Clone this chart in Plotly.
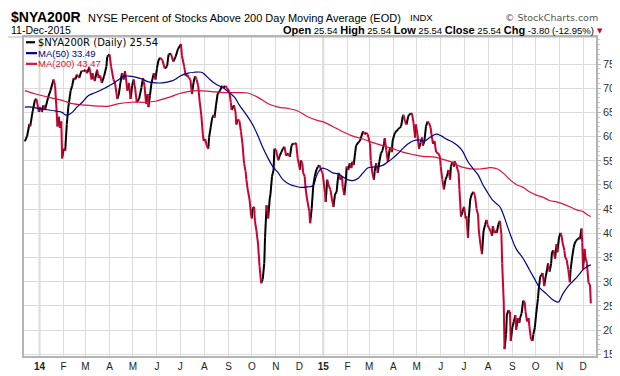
import plotly.graph_objects as go

# ---------------- data ----------------
main_dates = [
    "2013-12-13", "2013-12-16", "2013-12-19", "2013-12-20", "2013-12-23", "2013-12-26", "2013-12-28", "2013-12-31",
    "2014-01-02", "2014-01-04", "2014-01-06", "2014-01-08", "2014-01-12", "2014-01-15", "2014-01-19", "2014-01-21",
    "2014-01-23", "2014-01-24", "2014-01-26", "2014-01-27", "2014-01-29", "2014-01-30", "2014-02-01", "2014-02-03",
    "2014-02-05", "2014-02-07", "2014-02-10", "2014-02-12", "2014-02-14", "2014-02-16", "2014-02-18", "2014-02-21",
    "2014-02-24", "2014-02-27", "2014-03-01", "2014-03-03", "2014-03-06", "2014-03-09", "2014-03-10", "2014-03-13",
    "2014-03-16", "2014-03-18", "2014-03-20", "2014-03-22", "2014-03-25", "2014-03-28", "2014-03-29", "2014-04-01",
    "2014-04-03", "2014-04-06", "2014-04-08", "2014-04-11", "2014-04-13", "2014-04-15", "2014-04-17", "2014-04-19",
    "2014-04-21", "2014-04-24", "2014-04-26", "2014-04-28", "2014-04-30", "2014-05-02", "2014-05-04", "2014-05-06",
    "2014-05-09", "2014-05-12", "2014-05-14", "2014-05-16", "2014-05-18", "2014-05-20", "2014-05-21", "2014-05-23",
    "2014-05-25", "2014-05-28", "2014-05-30", "2014-06-01", "2014-06-03", "2014-06-05", "2014-06-08", "2014-06-11",
    "2014-06-14", "2014-06-16", "2014-06-19", "2014-06-22", "2014-06-25", "2014-06-28", "2014-07-02", "2014-07-03",
    "2014-07-06", "2014-07-08", "2014-07-10", "2014-07-12", "2014-07-14", "2014-07-16", "2014-07-18", "2014-07-20",
    "2014-07-22", "2014-07-24", "2014-07-26", "2014-07-28", "2014-07-30", "2014-07-31", "2014-08-02", "2014-08-04",
    "2014-08-06", "2014-08-07", "2014-08-09", "2014-08-11", "2014-08-13", "2014-08-14", "2014-08-16", "2014-08-18",
    "2014-08-19", "2014-08-21", "2014-08-24", "2014-08-26", "2014-08-28", "2014-08-30", "2014-09-02", "2014-09-04",
    "2014-09-05", "2014-09-08", "2014-09-10", "2014-09-11", "2014-09-13", "2014-09-15", "2014-09-17", "2014-09-19",
    "2014-09-21", "2014-09-23", "2014-09-24", "2014-09-26", "2014-09-28", "2014-09-30", "2014-10-01", "2014-10-02",
    "2014-10-04", "2014-10-05", "2014-10-07", "2014-10-09", "2014-10-11", "2014-10-13", "2014-10-15", "2014-10-17",
    "2014-10-18", "2014-10-20", "2014-10-22", "2014-10-24", "2014-10-25", "2014-10-27", "2014-10-29", "2014-10-30",
    "2014-11-01", "2014-11-04", "2014-11-06", "2014-11-08", "2014-11-10", "2014-11-12", "2014-11-14", "2014-11-17",
    "2014-11-19", "2014-11-21", "2014-11-23", "2014-11-25", "2014-11-27", "2014-11-29", "2014-12-02", "2014-12-03",
    "2014-12-05", "2014-12-06", "2014-12-08", "2014-12-09", "2014-12-11", "2014-12-14", "2014-12-15", "2014-12-17",
    "2014-12-19", "2014-12-21", "2014-12-23", "2014-12-25", "2014-12-27", "2014-12-29", "2014-12-31",
    "2015-01-03", "2015-01-04", "2015-01-06", "2015-01-08", "2015-01-10", "2015-01-12", "2015-01-14", "2015-01-16",
    "2015-01-18", "2015-01-20", "2015-01-21", "2015-01-23", "2015-01-25", "2015-01-26", "2015-01-28", "2015-01-30",
    "2015-01-31", "2015-02-02", "2015-02-04", "2015-02-06", "2015-02-07", "2015-02-09", "2015-02-11", "2015-02-12",
    "2015-02-15", "2015-02-17", "2015-02-19", "2015-02-21", "2015-02-23", "2015-02-25", "2015-02-27", "2015-03-02",
    "2015-03-03", "2015-03-05", "2015-03-07", "2015-03-08", "2015-03-10", "2015-03-12", "2015-03-14", "2015-03-16",
    "2015-03-18", "2015-03-20", "2015-03-21", "2015-03-23", "2015-03-25", "2015-03-27", "2015-03-28", "2015-03-30",
    "2015-03-31", "2015-04-03", "2015-04-05", "2015-04-07", "2015-04-09", "2015-04-11", "2015-04-13", "2015-04-14",
    "2015-04-16", "2015-04-18", "2015-04-20", "2015-04-21", "2015-04-23", "2015-04-25", "2015-04-27", "2015-04-29",
    "2015-04-30", "2015-05-02", "2015-05-04", "2015-05-06", "2015-05-08", "2015-05-09", "2015-05-11", "2015-05-13",
    "2015-05-15", "2015-05-17", "2015-05-19", "2015-05-20", "2015-05-22", "2015-05-24", "2015-05-26", "2015-05-29",
    "2015-05-31", "2015-06-01", "2015-06-03", "2015-06-05", "2015-06-07", "2015-06-09", "2015-06-11", "2015-06-13",
    "2015-06-14", "2015-06-16", "2015-06-18", "2015-06-19", "2015-06-21", "2015-06-24", "2015-06-25", "2015-06-27",
    "2015-06-29", "2015-07-01", "2015-07-03", "2015-07-04", "2015-07-06", "2015-07-07", "2015-07-09", "2015-07-11",
    "2015-07-13", "2015-07-15", "2015-07-17", "2015-07-19", "2015-07-20", "2015-07-22", "2015-07-24", "2015-07-26",
    "2015-07-28", "2015-07-30", "2015-07-31", "2015-08-02", "2015-08-04", "2015-08-06", "2015-08-07", "2015-08-09",
    "2015-08-11", "2015-08-12", "2015-08-14", "2015-08-16", "2015-08-18", "2015-08-19", "2015-08-21", "2015-08-22",
    "2015-08-24", "2015-08-25", "2015-08-27", "2015-08-29", "2015-08-30", "2015-09-01", "2015-09-03", "2015-09-05",
    "2015-09-06", "2015-09-08", "2015-09-10", "2015-09-11", "2015-09-13", "2015-09-15", "2015-09-17", "2015-09-18",
    "2015-09-20", "2015-09-22", "2015-09-23", "2015-09-25", "2015-09-27", "2015-09-28", "2015-09-30", "2015-10-02",
    "2015-10-04", "2015-10-05", "2015-10-07", "2015-10-09", "2015-10-10", "2015-10-12", "2015-10-14", "2015-10-16",
    "2015-10-17", "2015-10-19", "2015-10-21", "2015-10-22", "2015-10-24", "2015-10-26", "2015-10-28", "2015-10-29",
    "2015-10-31", "2015-11-02", "2015-11-03", "2015-11-05", "2015-11-07", "2015-11-08", "2015-11-10", "2015-11-12",
    "2015-11-14", "2015-11-15", "2015-11-17", "2015-11-19", "2015-11-20", "2015-11-22", "2015-11-24", "2015-11-26",
    "2015-11-27", "2015-11-29", "2015-11-30", "2015-12-01", "2015-12-03", "2015-12-04", "2015-12-06", "2015-12-08",
    "2015-12-10", "2015-12-11",
]
main_vals = [
    59.0, 60.1, 62.6, 62.1, 65.1, 67.5, 67.8, 65.1,
    66.1, 65.1, 66.5, 65.5, 68.1, 69.5, 71.8, 70.5,
    65.1, 62.1, 64.1, 61.8, 63.1, 55.5, 57.5, 57.1,
    62.5, 66.1, 69.5, 70.5, 72.1, 71.8, 72.8, 72.1,
    73.6, 73.5, 73.8, 73.1, 74.3, 71.8, 73.1, 71.5,
    73.8, 72.1, 72.6, 71.1, 72.5, 74.5, 76.5, 77.0,
    74.5, 71.8, 71.1, 67.8, 68.8, 71.1, 73.1, 71.8,
    73.5, 69.5, 71.1, 67.8, 70.5, 71.8, 69.8, 67.1,
    67.8, 70.1, 72.1, 70.5, 66.8, 68.8, 66.1, 68.5,
    71.1, 73.1, 71.8, 74.1, 75.8, 76.3, 75.8, 74.1,
    74.5, 77.0, 77.1, 75.5, 76.5, 78.1, 79.1, 76.8,
    74.5, 72.5, 72.8, 72.1, 71.8, 68.8, 71.1, 72.5,
    71.8, 70.5, 67.1, 64.5, 60.5, 59.1, 59.5, 58.1,
    57.5, 59.8, 61.8, 63.8, 64.5, 63.9, 66.5, 68.8,
    69.1, 69.5, 70.5, 70.1, 70.5, 70.1, 69.3, 67.1,
    65.5, 66.5, 65.1, 62.5, 63.5, 63.3, 61.1, 58.5,
    54.5, 52.8, 51.1, 48.8, 47.1, 43.8, 43.1, 45.1,
    45.5, 42.5, 40.5, 37.8, 33.1, 29.7, 30.5, 33.8,
    39.1, 45.8, 43.1, 47.1, 48.1, 51.8, 53.1, 57.5,
    57.3, 55.1, 56.1, 56.8, 57.5, 57.9, 56.1, 56.5,
    55.8, 58.1, 58.6, 58.4, 58.7, 55.5, 53.1, 55.1,
    54.5, 52.5, 51.8, 49.5, 47.1, 44.5, 42.1, 45.1,
    49.8, 51.8, 53.1, 53.8, 54.1, 53.1, 52.5,
    48.5, 46.5, 51.1, 49.8, 49.1, 47.1, 45.5, 48.1,
    48.5, 51.8, 52.5, 51.1, 51.8, 49.5, 47.9, 51.1,
    53.8, 53.1, 54.5, 53.5, 54.8, 54.1, 56.8, 58.1,
    58.8, 59.1, 60.1, 61.1, 60.5, 60.8, 60.5, 58.5,
    55.1, 52.5, 51.1, 52.8, 54.5, 52.5, 54.8, 56.5,
    57.1, 58.5, 59.7, 57.1, 54.8, 57.1, 57.8, 56.8,
    59.1, 60.8, 61.1, 61.5, 61.8, 62.1, 64.1, 64.5,
    63.1, 62.5, 64.1, 64.5, 64.7, 64.8, 62.8, 59.8,
    62.5, 60.5, 57.5, 58.8, 59.8, 58.1, 59.1, 62.1,
    63.1, 62.8, 61.8, 60.5, 58.5, 59.1, 56.8, 56.5,
    55.8, 53.8, 51.1, 49.1, 51.1, 51.8, 53.1, 51.1,
    53.8, 54.8, 53.8, 54.9, 54.1, 52.5, 49.1, 43.5,
    44.5, 45.5, 43.1, 43.5, 39.1, 43.1, 47.1, 48.1,
    48.6, 47.8, 45.1, 43.8, 40.5, 37.8, 35.7, 40.5,
    41.8, 42.8, 41.8, 41.1, 40.5, 39.5, 41.5, 40.1,
    40.5, 40.1, 41.8, 42.6, 39.8, 33.8, 25.8, 16.1,
    19.1, 23.1, 24.1, 23.8, 17.8, 20.5, 21.8, 23.1,
    20.1, 22.5, 21.5, 22.5, 23.5, 26.1, 25.8, 23.8,
    21.8, 22.5, 20.8, 18.1, 17.8, 19.1, 20.5, 23.8,
    26.5, 28.5, 31.1, 31.5, 31.8, 29.1, 31.1, 32.8,
    33.8, 32.1, 33.8, 36.1, 36.5, 34.8, 37.8, 36.1,
    39.1, 40.1, 39.8, 37.8, 36.5, 35.1, 34.5, 32.5,
    29.9, 32.5, 35.1, 37.1, 37.8, 38.5, 38.8, 39.1,
    38.8, 41.0, 38.1, 32.5, 36.8, 35.1, 33.8, 29.8,
    29.34, 25.54,
]

ma50_dates = [
    "2013-12-13", "2013-12-22", "2013-12-31", "2014-01-13", "2014-01-21", "2014-01-30", "2014-02-03", "2014-02-07",
    "2014-02-12", "2014-02-18", "2014-02-25", "2014-03-05", "2014-03-14", "2014-03-27", "2014-04-04", "2014-04-13",
    "2014-04-19", "2014-04-26", "2014-05-04", "2014-05-13", "2014-05-21", "2014-05-30", "2014-06-08", "2014-06-20",
    "2014-06-24", "2014-07-02", "2014-07-11", "2014-07-19", "2014-07-28", "2014-08-01", "2014-08-08", "2014-08-16",
    "2014-08-25", "2014-09-02", "2014-09-09", "2014-09-15", "2014-09-24", "2014-10-02", "2014-10-09", "2014-10-15",
    "2014-10-22", "2014-10-28", "2014-11-04", "2014-11-10", "2014-11-19", "2014-11-27", "2014-12-04", "2014-12-12",
    "2014-12-19", "2014-12-23", "2014-12-27", "2014-12-31", "2015-01-07", "2015-01-13", "2015-01-20", "2015-01-26",
    "2015-02-01", "2015-02-08", "2015-02-15", "2015-02-21", "2015-02-27", "2015-03-05", "2015-03-12", "2015-03-19",
    "2015-03-25", "2015-03-31", "2015-04-07", "2015-04-13", "2015-04-20", "2015-04-26", "2015-05-05", "2015-05-11",
    "2015-05-18", "2015-05-26", "2015-06-02", "2015-06-08", "2015-06-17", "2015-06-23", "2015-06-29", "2015-07-06",
    "2015-07-12", "2015-07-19", "2015-07-25", "2015-07-31", "2015-08-07", "2015-08-16", "2015-08-20", "2015-08-25",
    "2015-08-31", "2015-09-06", "2015-09-15", "2015-09-23", "2015-09-30", "2015-10-06", "2015-10-15", "2015-10-23",
    "2015-10-30", "2015-11-05", "2015-11-12", "2015-11-18", "2015-11-24", "2015-12-01", "2015-12-06", "2015-12-11",
]
ma50_vals = [
    66.1, 66.1, 65.8, 65.5, 65.3, 65.0, 64.5, 64.5,
    65.0, 66.1, 67.1, 68.5, 69.1, 70.1, 70.8, 71.8,
    72.5, 72.5, 72.3, 71.9, 71.3, 71.1, 71.1, 71.5,
    71.8, 72.6, 73.1, 73.3, 73.3, 72.9, 71.8, 70.8,
    70.1, 69.1, 68.1, 66.5, 64.5, 62.5, 60.1, 57.8,
    55.5, 53.8, 52.5, 51.1, 50.1, 49.7, 49.5, 49.6,
    49.9, 51.8, 53.0, 53.5, 53.1, 52.5, 52.3, 51.7,
    51.1, 50.9, 51.4, 52.5, 53.5, 53.7, 53.8, 54.1,
    54.8, 55.5, 56.5, 57.5, 58.5, 59.1, 59.3, 59.1,
    59.8, 60.5, 60.1, 59.5, 58.8, 58.1, 57.0, 54.8,
    53.5, 52.1, 50.1, 48.5, 46.8, 45.5, 44.1, 41.8,
    39.1, 36.8, 34.8, 32.5, 30.5, 28.8, 27.5, 26.3,
    25.8, 27.5, 29.1, 30.1, 31.1, 32.5, 33.1, 33.49,
]

ma200_dates = [
    "2013-12-13", "2013-12-27", "2014-01-13", "2014-01-30", "2014-02-12", "2014-03-01", "2014-03-18", "2014-03-31",
    "2014-04-13", "2014-04-30", "2014-05-17", "2014-05-30", "2014-06-12", "2014-06-20", "2014-06-28", "2014-07-11",
    "2014-07-24", "2014-08-10", "2014-08-27", "2014-09-13", "2014-09-26", "2014-10-09", "2014-10-22", "2014-11-04",
    "2014-11-17", "2014-11-29", "2014-12-12", "2014-12-25", "2014-12-31", "2015-01-13", "2015-01-26", "2015-02-08",
    "2015-02-21", "2015-03-05", "2015-03-19", "2015-03-31", "2015-04-13", "2015-04-26", "2015-05-09", "2015-05-22",
    "2015-06-04", "2015-06-17", "2015-06-25", "2015-07-04", "2015-07-12", "2015-07-21", "2015-07-30", "2015-08-05",
    "2015-08-13", "2015-08-20", "2015-08-29", "2015-09-06", "2015-09-15", "2015-09-23", "2015-10-02", "2015-10-10",
    "2015-10-19", "2015-10-28", "2015-11-05", "2015-11-14", "2015-11-22", "2015-12-01", "2015-12-06", "2015-12-11",
]
ma200_vals = [
    69.5, 68.8, 68.1, 67.5, 66.8, 66.5, 66.3, 66.3,
    66.8, 67.1, 67.1, 67.3, 67.9, 68.3, 68.8, 69.3,
    69.5, 69.3, 69.1, 69.1, 69.0, 68.1, 66.8, 66.1,
    65.8, 65.3, 64.1, 63.3, 63.1, 62.1, 61.0, 60.1,
    59.5, 58.8, 58.1, 57.5, 56.8, 56.3, 55.9, 55.8,
    55.3, 54.6, 53.9, 53.5, 53.3, 53.3, 53.5, 53.6,
    53.3, 52.5, 51.1, 50.1, 49.5, 48.6, 47.9, 47.5,
    46.8, 46.5, 46.1, 45.5, 44.9, 44.5, 43.9, 43.47,
]

month_ticks = [
    "2014-01-01", "2014-02-01", "2014-03-01", "2014-04-01", "2014-05-01", "2014-06-01",
    "2014-07-01", "2014-08-01", "2014-09-01", "2014-10-01", "2014-11-01", "2014-12-01",
    "2015-01-01", "2015-02-01", "2015-03-01", "2015-04-01", "2015-05-01", "2015-06-01",
    "2015-07-01", "2015-08-01", "2015-09-01", "2015-10-01", "2015-11-01", "2015-12-01",
]
month_labels = ["14", "F", "M", "A", "M", "J", "J", "A", "S", "O", "N", "D",
                "15", "F", "M", "A", "M", "J", "J", "A", "S", "O", "N", "D"]
year_ticks = ["2014-01-01", "2015-01-01"]
y_ticks = [15, 20, 25, 30, 35, 40, 45, 50, 55, 60, 65, 70, 75]

# ---------------- layout geometry (pixels) ----------------
W, H = 620, 376
PL, PR, PT, PB = 16, 588, 29, 357

def fx(x):
    return (x - PL) / (PR - PL)

def fy(y):
    return (PB - y) / (PB - PT)

BLACK = "#000000"
RED = "#cc0033"
NAVY = "#00008b"
CRIMSON = "#dc143c"

# split the price line into rising (black) and falling (red) segments
up_x, up_y, dn_x, dn_y = [], [], [], []
for i in range(1, len(main_vals)):
    if main_vals[i] >= main_vals[i - 1]:
        up_x += [main_dates[i - 1], main_dates[i], None]
        up_y += [main_vals[i - 1], main_vals[i], None]
    else:
        dn_x += [main_dates[i - 1], main_dates[i], None]
        dn_y += [main_vals[i - 1], main_vals[i], None]

fig = go.Figure()
fig.add_trace(go.Scatter(x=up_x, y=up_y, mode="lines", line=dict(color=BLACK, width=2),
                         hoverinfo="skip", showlegend=False))
fig.add_trace(go.Scatter(x=dn_x, y=dn_y, mode="lines", line=dict(color=RED, width=2),
                         hoverinfo="skip", showlegend=False))
fig.add_trace(go.Scatter(x=ma200_dates, y=ma200_vals, mode="lines", line=dict(color=CRIMSON, width=1.2),
                         line_shape="spline", showlegend=False))
fig.add_trace(go.Scatter(x=ma50_dates, y=ma50_vals, mode="lines", line=dict(color=NAVY, width=1.2),
                         line_shape="spline", showlegend=False))

shapes = []
for d in year_ticks:
    shapes.append(dict(type="line", xref="x", yref="paper", x0=d, x1=d, y0=0, y1=1,
                       line=dict(color="#b8b8b8", width=1.5), layer="below"))
# header separator line
shapes.append(dict(type="line", xref="paper", yref="paper", x0=fx(0), x1=fx(590), y0=fy(PT), y1=fy(PT),
                   line=dict(color="#b4b4b4", width=1)))

ann = []
FONT = "Liberation Sans, Arial, sans-serif"
ann.append(dict(text="<b>$NYA200R</b>", x=fx(2), y=fy(8), xanchor="left", yanchor="middle",
                font=dict(family=FONT, size=14, color="#000")))
ann.append(dict(text="NYSE Percent of Stocks Above 200 Day Moving Average (EOD)", x=fx(79), y=fy(9),
                xanchor="left", yanchor="middle", font=dict(family=FONT, size=11, color="#000")))
ann.append(dict(text="INDX", x=fx(401), y=fy(9), xanchor="left", yanchor="middle",
                font=dict(family=FONT, size=9.5, color="#000")))
ann.append(dict(text="© StockCharts.com", x=fx(591), y=fy(9), xanchor="right", yanchor="middle",
                font=dict(family="DejaVu Sans, Verdana, sans-serif", size=9.5, color="#555")))
ann.append(dict(text="11-Dec-2015", x=fx(2), y=fy(22), xanchor="left", yanchor="middle",
                font=dict(family=FONT, size=10.5, color="#000")))
last = main_vals[-1]
prev = main_vals[-2]
chg = last - prev
pct = chg / prev * 100
B = lambda s: "<span style='font-size:11px'><b>%s</b></span>" % s
stats = "%s %.2f %s %.2f %s %.2f %s %.2f %s %.2f (%.2f%%)" % (
    B("Open"), last, B("High"), last, B("Low"), last, B("Close"), last, B("Chg"), chg, pct)
ann.append(dict(text=stats, x=fx(587), y=fy(22), xanchor="right", yanchor="middle",
                font=dict(family=FONT, size=9.5, color="#000")))
ann.append(dict(text="▼", x=fx(596), y=fy(22.5), xanchor="right", yanchor="middle",
                font=dict(family="DejaVu Sans, sans-serif", size=7, color=RED)))

# legend (drawn by hand to match the chart's in-plot key)
legend_rows = [
    ("$NYA200R (Daily) %.2f" % main_vals[-1], BLACK, 34.4, "DejaVu Sans, Verdana, sans-serif", 10, 27),
    ("MA(50) %.2f" % ma50_vals[-1], NAVY, 45.6, FONT, 9.5, 29),
    ("MA(200) %.2f" % ma200_vals[-1], CRIMSON, 56.6, FONT, 9.5, 29),
]
for text, col, yy, fam, sz, x1 in legend_rows:
    shapes.append(dict(type="line", xref="paper", yref="paper", x0=fx(18), x1=fx(x1), y0=fy(yy), y1=fy(yy),
                       line=dict(color=col, width=2.2)))
    ann.append(dict(text=text, x=fx(29), y=fy(yy), xanchor="left", yanchor="middle",
                    font=dict(family=fam, size=sz, color=col)))

for a in ann:
    a.update(xref="paper", yref="paper", showarrow=False, borderpad=0)

fig.update_layout(
    width=W, height=H,
    margin=dict(l=PL, r=W - PR, t=PT, b=H - PB, pad=0),
    paper_bgcolor="white", plot_bgcolor="white",
    showlegend=False,
    shapes=shapes, annotations=ann,
    xaxis=dict(type="date", range=["2013-12-12", "2015-12-17 16:00"],
               tickmode="array", tickvals=month_ticks,
               ticktext=["<b>%s</b>" % t if t.isdigit() else t for t in month_labels],
               showgrid=True, gridcolor="#dcdcdc", gridwidth=1,
               showline=True, linecolor="#b4b4b4", linewidth=1.5, mirror=True,
               ticks="", tickfont=dict(family=FONT, size=10, color="#222"),
               zeroline=False, fixedrange=True),
    yaxis=dict(side="right", range=[14.66, 80.58], tickmode="array", tickvals=y_ticks,
               showgrid=True, gridcolor="#dcdcdc", gridwidth=1,
               showline=True, linecolor="#b4b4b4", linewidth=1.5, mirror=True,
               ticks="outside", ticklen=3, tickcolor="#b4b4b4",
               minor=dict(dtick=1, ticks="outside", ticklen=2, tickcolor="#c8c8c8", showgrid=False),
               tickfont=dict(family=FONT, size=11, color="#333"),
               zeroline=False, fixedrange=True),
)

fig.write_html("out.html")
